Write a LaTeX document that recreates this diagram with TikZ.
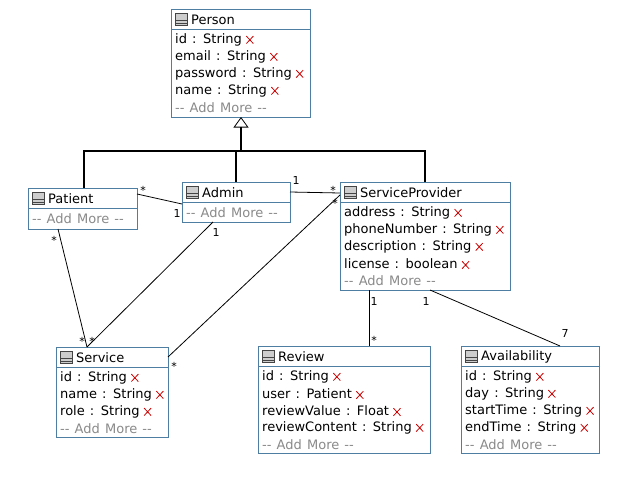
\documentclass[tikz,border=0pt]{standalone}
\usepackage{fontspec}
\setmainfont[WordSpace=1.25]{DejaVu Sans}
\usetikzlibrary{calc,arrows.meta}
\definecolor{boxblue}{HTML}{4E7FA3}
\definecolor{xred}{HTML}{CC0000}
\definecolor{addgray}{HTML}{8A8A8A}
\definecolor{icongray}{HTML}{CDCDCD}
\definecolor{icondark}{HTML}{444444}
\newcommand\delx{\tikz[baseline=0pt]\draw[xred,line width=0.8pt] (0pt,0pt)--(7pt,7.5pt) (0pt,7.5pt)--(7pt,0pt);}
\tikzset{
  classbox/.style={draw=boxblue, line width=1pt, fill=white, inner sep=0pt, outer sep=0pt},
  titletext/.style={anchor=west, inner sep=0pt, font=\fontsize{13}{15}\selectfont},
  attrtext/.style={anchor=west, inner sep=0pt, font=\fontsize{13}{15}\selectfont},
  addtext/.style={attrtext, text=addgray},
  mult/.style={inner sep=0pt, font=\fontsize{11}{13}\selectfont},
  assoc/.style={draw=black, line width=0.8pt},
  genline/.style={draw=black, line width=1.1pt},
}
\newcommand\umlclass[6]{%
  \node[classbox, minimum width={#4-#2}, minimum height={#5-#3}] (#1) at ({(#2+#4)/2},{(#3+#5)/2}) {};
  \draw[boxblue, line width=1pt] ([yshift=-20pt]#1.north west) -- ([yshift=-20pt]#1.north east);
  \draw[fill=icongray, draw=icondark, line width=0.5pt] ([xshift=4pt,yshift=-4pt]#1.north west) rectangle ([xshift=16pt,yshift=-16.5pt]#1.north west);
  \draw[icondark, line width=0.5pt] ([xshift=4pt,yshift=-11.7pt]#1.north west) -- ([xshift=16pt,yshift=-11.7pt]#1.north west)
     ([xshift=4pt,yshift=-14pt]#1.north west) -- ([xshift=16pt,yshift=-14pt]#1.north west);
  \node[titletext] (#1-title) at ([xshift=20pt,yshift=-11pt]#1.north west) {#6};
}
\newcommand\umlattr[3]{%
  \node[attrtext] (#1-a#2) at ([xshift=4pt,yshift={-31-17*(#2)}]#1.north west) {#3\hspace{4pt}\delx};
}
\newcommand\umladd[2]{%
  \node[addtext] (#1-add) at ([xshift=4pt,yshift={-31-17*(#2)}]#1.north west) {-{}- Add More -{}-};
}
\begin{document}
\begin{tikzpicture}[x=1pt,y=-1pt]
\useasboundingbox[fill=white] (0,0) rectangle (624,482);

% classes
\umlclass{person}{171}{9}{310}{117}{Person}
\umlattr{person}{0}{id : String}
\umlattr{person}{1}{email : String}
\umlattr{person}{2}{password : String}
\umlattr{person}{3}{name : String}
\umladd{person}{4}

\umlclass{patient}{28}{188}{137}{229}{Patient}
\umladd{patient}{0}

\umlclass{admin}{182}{182}{290}{222}{Admin}
\umladd{admin}{0}

\umlclass{sp}{340}{182}{510}{290}{ServiceProvider}
\umlattr{sp}{0}{address : String}
\umlattr{sp}{1}{phoneNumber : String}
\umlattr{sp}{2}{description : String}
\umlattr{sp}{3}{license : boolean}
\umladd{sp}{4}

\umlclass{service}{56}{347}{168}{437}{Service}
\umlattr{service}{0}{id : String}
\umlattr{service}{1}{name : String}
\umlattr{service}{2}{role : String}
\umladd{service}{3}

\umlclass{review}{258}{346}{430}{453}{Review}
\umlattr{review}{0}{id : String}
\umlattr{review}{1}{user : Patient}
\umlattr{review}{2}{reviewValue : Float}
\umlattr{review}{3}{reviewContent : String}
\umladd{review}{4}

\umlclass{avail}{461}{346}{599}{453}{Availability}
\umlattr{avail}{0}{id : String}
\umlattr{avail}{1}{day : String}
\umlattr{avail}{2}{startTime : String}
\umlattr{avail}{3}{endTime : String}
\umladd{avail}{4}

% generalisation
\coordinate (bar) at (241,151);
\draw[genline] ([xshift=1.5pt]patient.north) |- (bar -| sp.north) -- (sp.north);
\draw[genline] (admin.north) -- (admin.north |- bar);
\draw[genline, -{Triangle[open, length=10.5pt, width=15pt, line width=0.8pt]}] (bar) -- (bar |- person.south);

% associations
\draw[assoc] ([yshift=-6pt]patient.north east) -- ([yshift=-22pt]admin.north west);
\draw[assoc] ([yshift=-10pt]admin.north east) -- ([yshift=-11pt]sp.north west);
\draw[assoc] ([yshift=-10pt]service.north east) -- ([yshift=-13pt]sp.north west);
\draw[assoc] ([xshift=30pt]patient.south west) -- ([xshift=31pt]service.north west);
\draw[assoc] ([xshift=31pt]admin.south west) -- ([xshift=31pt]service.north west);
\coordinate (sprv) at ([xshift=29pt]sp.south west);
\draw[assoc] (sprv) -- (sprv |- review.north);
\draw[assoc] ([xshift=90pt]sp.south west) -- ([xshift=99pt]avail.north west);

% multiplicities
\node[mult] (m1) at (143,190) {*};
\node[mult] (m2) at (177,213) {1};
\node[mult] (m3) at (296,180) {1};
\node[mult] (m4) at (333,190) {*};
\node[mult] (m5) at (335,203) {*};
\node[mult] (m6) at (174,366) {*};
\node[mult] (m7) at (54,240) {*};
\node[mult] (m8) at (82,341) {*};
\node[mult] (m9) at (216,232) {1};
\node[mult] (m10) at (92,341) {*};
\node[mult] (m11) at (374,301) {1};
\node[mult] (m12) at (374,340) {*};
\node[mult] (m13) at (426,301) {1};
\node[mult] (m14) at (565,333) {7};
\end{tikzpicture}
\end{document}
